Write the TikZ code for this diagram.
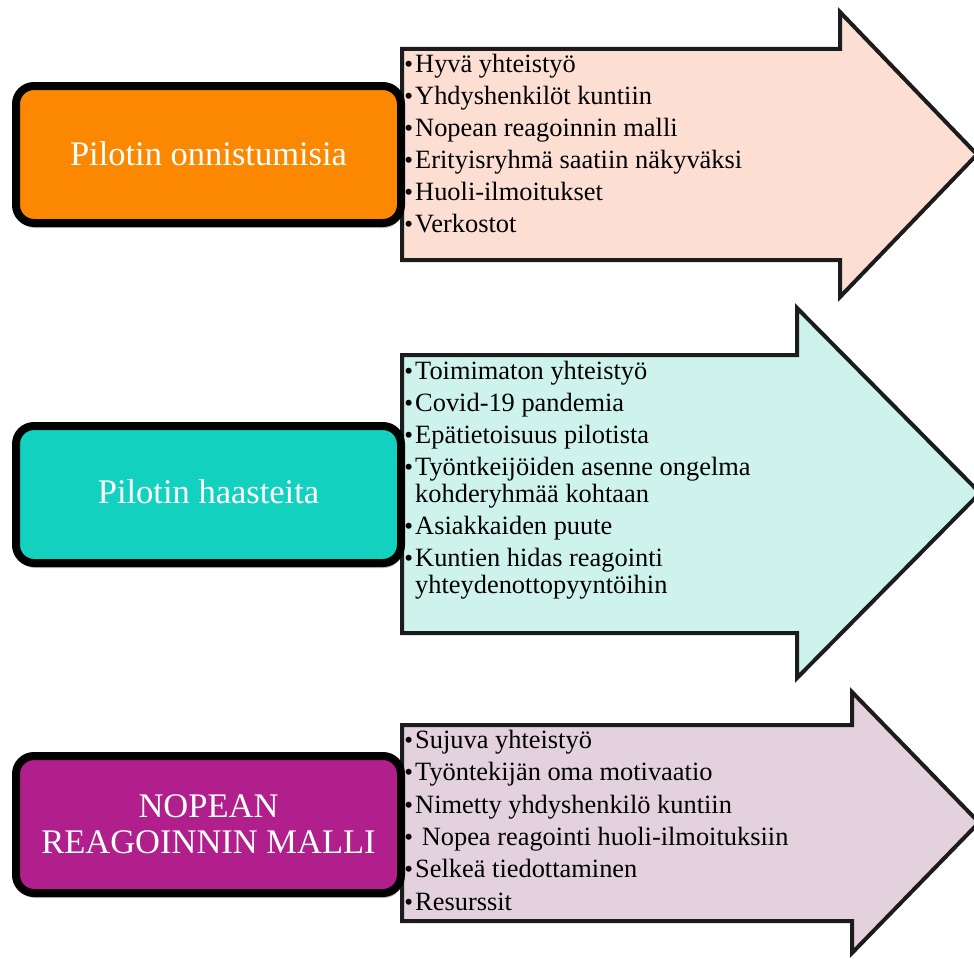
\documentclass[tikz,border=0pt]{standalone}
\usepackage{fontspec}
\setmainfont{Liberation Serif}
\usetikzlibrary{shadows}
\definecolor{orng}{RGB}{251,136,0}
\definecolor{teal2}{RGB}{18,209,191}
\definecolor{purp}{RGB}{176,31,140}
\definecolor{peach}{RGB}{252,222,210}
\definecolor{mint}{RGB}{206,243,236}
\definecolor{lilac}{RGB}{228,209,222}
\definecolor{edge}{RGB}{28,28,28}
\newcommand\bul{\makebox[13pt][c]{\fontsize{25}{25}\selectfont\raisebox{0pt}{•}}}
\begin{document}
\begin{tikzpicture}[x=1pt,y=-1pt,
  arrowshape/.style={draw=edge, line width=4pt, line join=miter},
  namebox/.style={draw=black, line width=8pt, rounded corners=18pt, minimum width=385, inner sep=0pt,
    drop shadow={shadow xshift=1pt, shadow yshift=-5pt, opacity=0.25, fill=black}},
  boxtext/.style={text=white, inner sep=0pt, font=\fontsize{34.5}{36}\selectfont},
  item/.style={inner sep=0pt, anchor=base west, font=\fontsize{26.4}{27}\selectfont},
]
\useasboundingbox (0,0) rectangle (974,958);
% arrows
\draw[arrowshape, fill=peach] (402,49) -- (840,49) -- (840,12) -- (977,154.5) -- (840,297) -- (840,260) -- (402,260) -- cycle;
\draw[arrowshape, fill=mint] (402,355) -- (797,355) -- (797,308) -- (980,493) -- (797,678) -- (797,633) -- (402,633) -- cycle;
\draw[arrowshape, fill=lilac] (402,725) -- (852,725) -- (852,692) -- (979,822.5) -- (852,953) -- (852,921) -- (402,921) -- cycle;
% boxes
\node[namebox, fill=orng, minimum height=137] (b1) at (208.5,154.5) {};
\node[namebox, fill=teal2, minimum height=137] (b2) at (208.5,494.5) {};
\node[namebox, fill=purp, minimum height=137] (b3) at (208.5,824.5) {};
\node[boxtext, anchor=base] (t1) at (208.5,165) {Pilotin onnistumisia};
\node[boxtext, anchor=base] (t2) at (208.5,503) {Pilotin haasteita};
\node[boxtext, anchor=base] (t3a) at (208.5,817) {NOPEAN};
\node[boxtext, anchor=base] (t3b) at (208.5,853) {REAGOINNIN MALLI};
% list 1
\node[item] (a1) at (402,72) {\bul Hyvä yhteistyö};
\node[item] (a2) at (402,104) {\bul Yhdyshenkilöt kuntiin};
\node[item] (a3) at (402,136) {\bul Nopean reagoinnin malli};
\node[item] (a4) at (402,168) {\bul Erityisryhmä saatiin näkyväksi};
\node[item] (a5) at (402,200) {\bul Huoli-ilmoitukset};
\node[item] (a6) at (402,232) {\bul Verkostot};
% list 2
\node[item] (c1) at (402,379) {\bul Toimimaton yhteistyö};
\node[item] (c2) at (402,411) {\bul Covid-19 pandemia};
\node[item] (c3) at (402,443) {\bul Epätietoisuus pilotista};
\node[item] (c4) at (402,475) {\bul Työntkeijöiden asenne ongelma};
\node[item] (c4b) at (415,502) {kohderyhmää kohtaan};
\node[item] (c5) at (402,534) {\bul Asiakkaiden puute};
\node[item] (c6) at (402,566) {\bul Kuntien hidas reagointi};
\node[item] (c6b) at (415,593) {yhteydenottopyyntöihin};
% list 3
\node[item] (d1) at (402,748) {\bul Sujuva yhteistyö};
\node[item] (d2) at (402,780) {\bul Työntekijän oma motivaatio};
\node[item] (d3) at (402,813) {\bul Nimetty yhdyshenkilö kuntiin};
\node[item] (d4) at (402,845) {\bul\ Nopea reagointi huoli-ilmoituksiin};
\node[item] (d5) at (402,877) {\bul Selkeä tiedottaminen};
\node[item] (d6) at (402,910) {\bul Resurssit};
\end{tikzpicture}
\end{document}
